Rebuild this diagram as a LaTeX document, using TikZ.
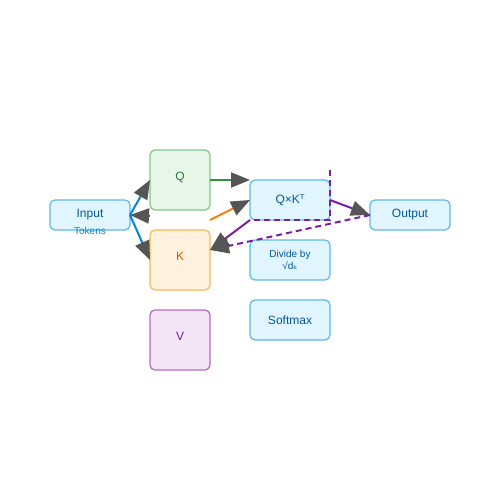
\documentclass[tikz,border=0pt]{standalone}
\usepackage{fontspec}
\setmainfont{Liberation Sans}
\newfontfamily\dvfont{DejaVu Sans}
\usetikzlibrary{calc,
arrows.meta,
positioning}
\definecolor{opfill}{HTML}{E1F5FE}
\definecolor{opdraw}{HTML}{5DB8EA}
\definecolor{optext}{HTML}{01579B}
\definecolor{qfill}{HTML}{E8F5E9}
\definecolor{qdraw}{HTML}{81C784}
\definecolor{qtext}{HTML}{2E7D32}
\definecolor{kfill}{HTML}{FFF3E0}
\definecolor{kdraw}{HTML}{FFB74D}
\definecolor{ktext}{HTML}{E65100}
\definecolor{vfill}{HTML}{F3E5F5}
\definecolor{vdraw}{HTML}{BA68C8}
\definecolor{vtext}{HTML}{6A1B9A}
\definecolor{inarrow}{HTML}{0288D1}
\definecolor{qarrow}{HTML}{388E3C}
\definecolor{karrow}{HTML}{F57C00}
\definecolor{attarrow}{HTML}{7B1FA2}
\definecolor{tipgray}{HTML}{555555}

\begin{document}
\begin{tikzpicture} [x=1pt, y=-1pt,
    ->,
    >={Triangle[length=19pt, width=15pt, color=tipgray]},
    line width=2pt,
    every node/.style={font=\fontsize{12}{14}\selectfont},
    op node/.style={rectangle, rounded corners=5pt, draw=opdraw, fill=opfill,
        text=optext, line width=1.2pt, align=center, outer sep=0pt,
        minimum width=80pt, minimum height=30pt},
    mat node/.style={rectangle, rounded corners=5pt, line width=1.2pt,
        outer sep=0pt, text depth=8pt, minimum width=60pt, minimum height=60pt}
  ]

  \useasboundingbox (0, 0) rectangle (500, 500);

  \node [op node] (inp) at (90, 215) {Input};
  \node [text=inarrow, font=\fontsize{10}{12}\selectfont,
    inner sep=0pt] (tok) at (90, 231) {Tokens};

  \node [mat node,
    draw=qdraw,
    fill=qfill,
    text=qtext
  ] (q) at (180, 180) {Q};

  \node [mat node,
    draw=kdraw,
    fill=kfill,
    text=ktext,
    below = 20pt of q
  ] (k) {K};

  \node [mat node,
    draw=vdraw,
    fill=vfill,
    text=vtext,
    below = 20pt of k
  ] (v) {V};

  \node [op node,
    minimum height = 40pt
  ] (qk) at (290, 200) {Q×K{\dvfont ᵀ}};

  \node [op node,
    minimum height = 40pt,
    font=\fontsize{10}{12}\selectfont,
    below = 20pt of qk
  ] (div) {Divide by\\√d{\dvfont ₖ}};

  \node [op node,
    minimum height = 40pt,
    below = 20pt of div
  ] (soft) {Softmax};

  \node [op node] (out) at (410, 215) {Output};

  \coordinate (back) at (150, 216);
  \coordinate (kq) at ($(q.south east) + (0, 10)$);
  \coordinate (kport) at ($(k.north east) + (0, 20)$);
  \coordinate (mtop) at ($(qk.north east) + (0, -10)$);

  \draw [inarrow] (inp.east) -> (q.west);
  \draw [inarrow] (inp.east) -> (k.west);
  \draw [inarrow] (back) -> (inp.east);

  \draw [qarrow] (q.east) -> (qk.north west);
  \draw [karrow] (kq) -> (qk.west);

  \draw [attarrow] (qk.south west) -> (kport);
  \draw [attarrow] (qk.east) -> (out.west);
  \draw [attarrow, dashed, dash pattern=on 6pt off 4pt] (out.west) -> (kport);

  \draw [attarrow, -, dash pattern=on 6pt off 4pt] (mtop) -- (qk.south east)
  -- (qk.south west);

\end{tikzpicture}
\end{document}
